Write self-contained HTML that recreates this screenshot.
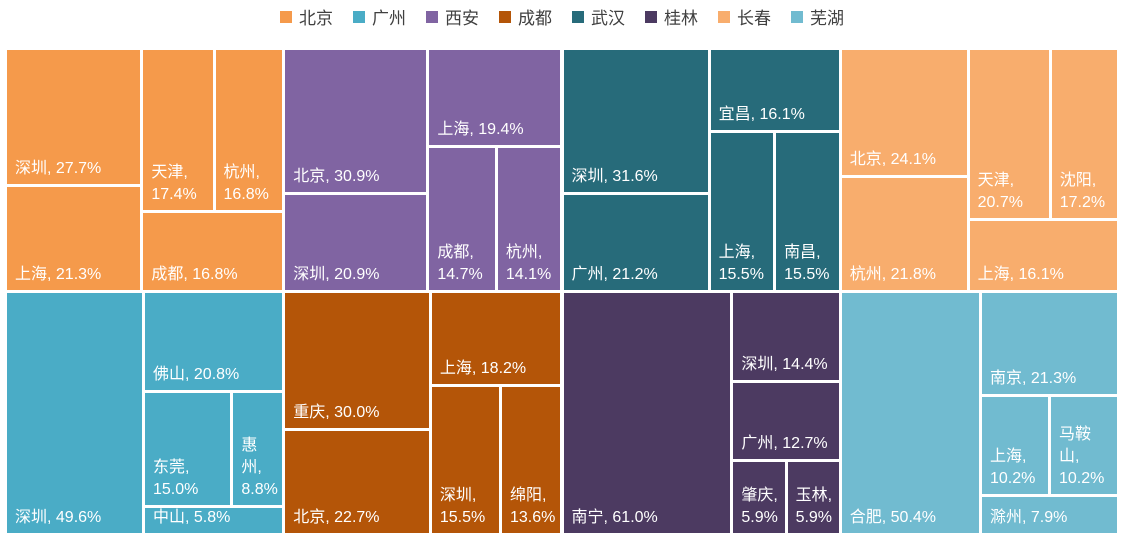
<!DOCTYPE html>
<html><head><meta charset="utf-8">
<style>
body{margin:0;width:1124px;height:538px;background:#fff;font-family:"Liberation Sans","Noto Sans CJK SC",sans-serif;overflow:hidden;position:relative}
#legend{position:absolute;top:4px;left:0;width:1124px;display:flex;justify-content:center;gap:20px;font-size:17px;color:#404040}
.li{display:flex;align-items:center;gap:7px}
.sw{width:12px;height:12px}
.cell{position:absolute;box-sizing:border-box}
.lab{position:absolute;left:8px;right:6px;bottom:4px;color:#fff;font-size:16px;line-height:22px}
</style></head><body>
<div id="legend"></div>
<div id="chart"></div>
<script>
const groupNames=['北京','广州','西安','成都','武汉','桂林','长春','芜湖'];
const groupColors=['#F59A4B','#4AACC6','#8064A2','#B45508','#276B7A','#4C3A61','#F8AD6D','#71BBD0'];
const bjNames=['深圳','上海','天津','杭州','成都'];const bjVals=[27.7,21.3,17.4,16.8,16.8];
const gzNames=['深圳','佛山','东莞','惠州','中山'];const gzVals=[49.6,20.8,15.0,8.8,5.8];
const xaNames=['北京','深圳','上海','成都','杭州'];const xaVals=[30.9,20.9,19.4,14.7,14.1];
const cdNames=['重庆','北京','上海','深圳','绵阳'];const cdVals=[30.0,22.7,18.2,15.5,13.6];
const whNames=['深圳','广州','宜昌','上海','南昌'];const whVals=[31.6,21.2,16.1,15.5,15.5];
const glNames=['南宁','深圳','广州','肇庆','玉林'];const glVals=[61.0,14.4,12.7,5.9,5.9];
const ccNames=['北京','杭州','天津','沈阳','上海'];const ccVals=[24.1,21.8,20.7,17.2,16.1];
const whuNames=['合肥','南京','上海','马鞍山','滁州'];const whuVals=[50.4,21.3,10.2,10.2,7.9];
// nesting structure (indices into leaf arrays); 'h' = side by side, 'v' = stacked
const S_A=['h',[['v',[0,1]],['v',[['h',[2,3]],4]]]];
const S_B=['h',[['v',[0,1]],['v',[2,['h',[3,4]]]]]];
const S_C=['h',[0,['v',[1,['h',[2,3]],4]]]];
const S_D=['h',[0,['v',[1,2,['h',[3,4]]]]]];
const S_E=['h',[['v',[0,1]],['v',[['h',[2,3]],4]]]];
const groups=[[bjNames,bjVals,S_A],[gzNames,gzVals,S_C],[xaNames,xaVals,S_B],[cdNames,cdVals,S_B],
 [whNames,whVals,S_B],[glNames,glVals,S_D],[ccNames,ccVals,S_E],[whuNames,whuVals,S_C]];
const gridOrder=[0,2,4,6,1,3,5,7];

const leg=document.getElementById('legend');
groupNames.forEach((n,i)=>{
  const d=document.createElement('div');d.className='li';
  
  
  d.innerHTML='<span class="sw" style="background:'+groupColors[i]+'"></span>'+n;
  leg.appendChild(d);
});
const chart=document.getElementById('chart');
const X0=7,Y0=50,W=1113,H=486,G=3;
function sum(node,vals){return typeof node==='number'?vals[node]:node[1].reduce((a,c)=>a+sum(c,vals),0);}
function layout(node,vals,x,y,w,h,out){
  if(typeof node==='number'){out.push([node,x,y,w,h]);return;}
  const tot=sum(node,vals);let off=0;
  node[1].forEach(c=>{const f=sum(c,vals)/tot;
    if(node[0]==='h'){layout(c,vals,x+off,y,w*f,h,out);off+=w*f;}
    else{layout(c,vals,x,y+off,w,h*f,out);off+=h*f;}});
}
gridOrder.forEach((gi,k)=>{
  const col=k%4,row=Math.floor(k/4);
  const gw=W/4,gh=H/2;
  const [names,vals,struct]=groups[gi];
  const out=[];layout(struct,vals,X0+col*gw,Y0+row*gh,gw,gh,out);
  out.forEach(([i,x,y,w,h])=>{
    const c=document.createElement('div');c.className='cell';
    
    
    c.style.left=(x)+'px';c.style.top=(y)+'px';
    c.style.width=(w-G)+'px';c.style.height=(h-G)+'px';
    c.style.background=groupColors[gi];
    const l=document.createElement('div');l.className='lab';
    
    
    l.textContent=names[i]+', '+vals[i].toFixed(1)+'%';
    c.appendChild(l);chart.appendChild(c);
  });
});
</script>
</body></html>
